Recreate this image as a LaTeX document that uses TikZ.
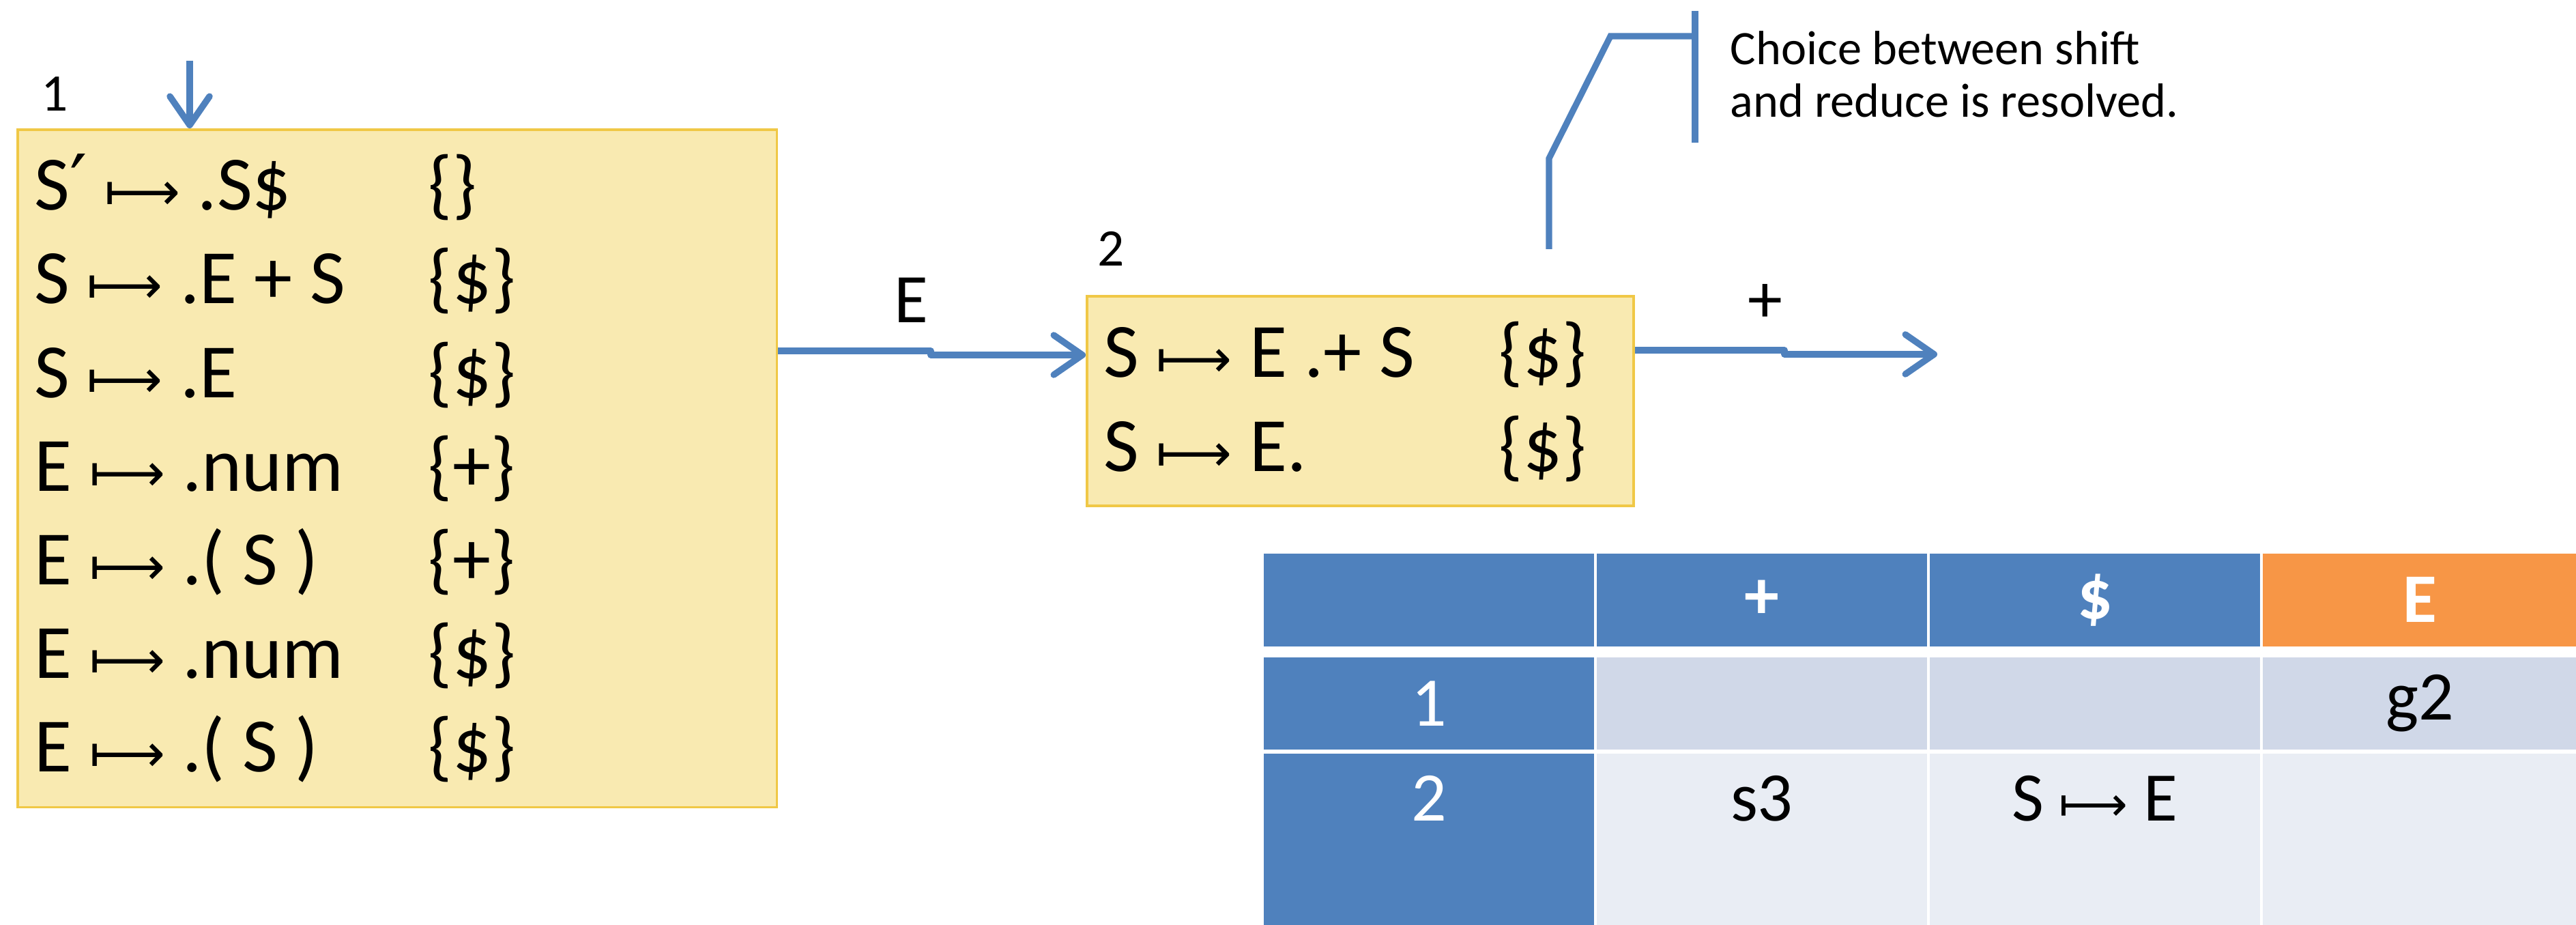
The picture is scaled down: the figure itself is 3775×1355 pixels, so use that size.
\documentclass[tikz,border=0pt]{standalone}
\usepackage{fontspec}
\setmainfont{Carlito}
\newfontfamily\symfont{DejaVu Sans}
% long "maps to" arrow, set a little smaller than the surrounding text
\newcommand\mapsarrow[1][22]{{\symfont\fontsize{#1}{#1}\selectfont ⟼}}
\newcommand\primemark{{\symfont ′}}
\usetikzlibrary{arrows.meta}
\definecolor{boxfill}{HTML}{F9EAB1}
\definecolor{boxline}{HTML}{F0C846}
\definecolor{flowblue}{HTML}{4F81BD}
\definecolor{headorange}{HTML}{F79646}
\definecolor{rowa}{HTML}{D0D8E8}
\definecolor{rowb}{HTML}{E9EDF4}

\begin{document}
\begin{tikzpicture}[x=0.01cm,y=-0.01cm,
  statebox/.style={draw=boxline, fill=boxfill, line width=1pt, anchor=north west, inner sep=0pt},
  item/.style={anchor=base west, inner sep=0pt, font=\fontsize{32}{38}\selectfont},
  statenum/.style={anchor=base, inner sep=0pt, font=\fontsize{22}{26}\selectfont},
  edgelabel/.style={anchor=base, inner sep=0pt, font=\fontsize{29}{34}\selectfont},
  flow/.style={draw=flowblue, line width=2.7pt, line join=round,
    -{Straight Barb[length=0.42cm,width=0.58cm,round]}},
  callout/.style={draw=flowblue, line width=2.6pt, line join=miter},
  note/.style={anchor=base west, inner sep=0pt, font=\fontsize{20}{24}\selectfont},
  cell/.style={anchor=north west, inner sep=0pt, font=\fontsize{29}{34}\selectfont},
  headcell/.style={cell, text=white, font=\fontsize{29}{34}\selectfont\bfseries},
  wide/.style={minimum width=4.84cm},
  narrow/.style={minimum width=4.60cm},
]
\useasboundingbox (0,0) rectangle (3775,1355);

% ---- state 1 ----
\node[statebox, minimum width=11.12cm, minimum height=9.92cm] (b1) at (24,188) {};
\node[statenum] (n1) at (80,163) {1};
\node[item] (p11) at (50,308)  {S\primemark{} \mapsarrow{} .S\$};
\node[item] (l11) at (627,308) {\{\}};
\node[item] (p12) at (50,445)  {S \mapsarrow{} .E + S};
\node[item] (l12) at (627,445) {\{\$\}};
\node[item] (p13) at (50,582)  {S \mapsarrow{} .E};
\node[item] (l13) at (627,582) {\{\$\}};
\node[item] (p14) at (50,719)  {E \mapsarrow{} .num};
\node[item] (l14) at (627,719) {\{+\}};
\node[item] (p15) at (50,856)  {E \mapsarrow{} .( S )};
\node[item] (l15) at (627,856) {\{+\}};
\node[item] (p16) at (50,993)  {E \mapsarrow{} .num};
\node[item] (l16) at (627,993) {\{\$\}};
\node[item] (p17) at (50,1130) {E \mapsarrow{} .( S )};
\node[item] (l17) at (627,1130) {\{\$\}};

% ---- state 2 ----
\node[statebox, minimum width=8.01cm, minimum height=3.07cm] (b2) at (1591,432) {};
\node[statenum] (n2) at (1628,390) {2};
\node[item] (p21) at (1617,553)  {S \mapsarrow{} E .+ S};
\node[item] (l21) at (2196,553)  {\{\$\}};
\node[item] (p22) at (1617,690)  {S \mapsarrow{} E.};
\node[item] (l22) at (2196,690)  {\{\$\}};

% ---- transitions ----
\coordinate (start) at (278,89);
\draw[flow] (start) -- (b1.north -| start);
\draw[flow] (b1.east |- 0,514) -- (1364,514) -- (1364,520) -- (b2.west |- 0,520);
\node[edgelabel] (lblE) at (1335,473) {E};
\coordinate (plusend) at (2839,519);
\draw[flow] (b2.east |- 0,513) -- (2615,513) -- (2615,519) -- (plusend);
\node[edgelabel] (lblplus) at (2587,473) {+};

% ---- callout ----
\coordinate (c1) at (2270,365);
\coordinate (c2) at (2270,232);
\coordinate (c3) at (2360,53);
\coordinate (c4) at (2484,53);
\coordinate (bartop) at (2484,16);
\coordinate (barbot) at (2484,209);
\draw[callout] (c1) -- (c2) -- (c3) -- (c4);
\draw[callout] (bartop) -- (barbot);
\node[note] (note1) at (2535,95)  {Choice between shift};
\node[note] (note2) at (2535,172) {and reduce is resolved.};

% ---- parse table ----
\node[headcell, wide, minimum height=1.36cm, fill=flowblue] (h0) at (1851,810) {};
\node[headcell, wide, minimum height=1.36cm, fill=flowblue] (h1) at (2339,810) {+};
\node[headcell, wide, minimum height=1.36cm, fill=flowblue] (h2) at (2827,810) {\$};
\node[headcell, narrow, minimum height=1.36cm, fill=headorange] (h3) at (3315,810) {E};

\node[cell, wide, minimum height=1.35cm, fill=flowblue, text=white] (r1c0) at (1851,962) {1};
\node[cell, wide, minimum height=1.35cm, fill=rowa] (r1c1) at (2339,962) {};
\node[cell, wide, minimum height=1.35cm, fill=rowa] (r1c2) at (2827,962) {};
\node[cell, narrow, minimum height=1.35cm, fill=rowa] (r1c3) at (3315,962) {g2};

\node[cell, wide, minimum height=2.52cm, fill=flowblue] (r2c0) at (1851,1103) {};
\node[cell, wide, minimum height=2.52cm, fill=rowb] (r2c1) at (2339,1103) {};
\node[cell, wide, minimum height=2.52cm, fill=rowb] (r2c2) at (2827,1103) {};
\node[cell, narrow, minimum height=2.52cm, fill=rowb] (r2c3) at (3315,1103) {};
\node[edgelabel, text=white] (t20) at (r2c0.north |- 0,1202) {2};
\node[edgelabel] (t21) at (r2c1.north |- 0,1202) {s3};
\node[edgelabel] (t22) at (r2c2.north |- 0,1202) {S \mapsarrow[20]{} E};
\end{tikzpicture}
\end{document}
